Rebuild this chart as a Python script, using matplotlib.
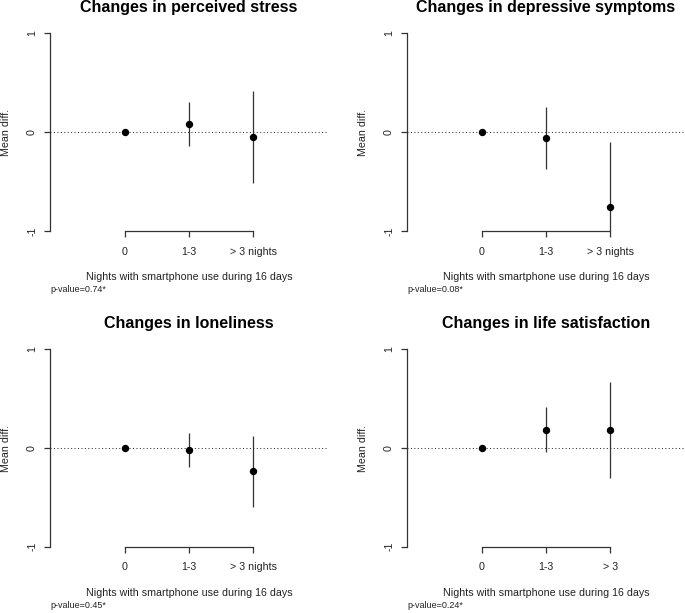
import matplotlib
matplotlib.use("Agg")
import matplotlib.pyplot as plt
import numpy as np

plt.rcParams['font.family'] = ['Liberation Sans', 'DejaVu Sans']

# ---- data ----
titles = ["Changes in perceived stress", "Changes in depressive symptoms",
          "Changes in loneliness", "Changes in life satisfaction"]
categories_a = ["0", "1-3", "> 3 nights"]
categories_b = ["0", "1-3", "> 3"]
stress_mean = [0.0, 0.077, -0.054]
stress_low = [0.0, -0.141, -0.518]
stress_high = [0.0, 0.300, 0.417]
dep_mean = [0.0, -0.064, -0.754]
dep_low = [0.0, -0.377, -1.0]
dep_high = [0.0, 0.250, -0.098]
lone_mean = [0.0, -0.020, -0.237]
lone_low = [0.0, -0.196, -0.600]
lone_high = [0.0, 0.152, 0.125]
life_mean = [0.0, 0.185, 0.185]
life_low = [0.0, -0.044, -0.300]
life_high = [0.0, 0.418, 0.672]
p_values = ["p-value=0.74*", "p-value=0.08*", "p-value=0.45*", "p-value=0.24*"]
y_ticks = [-1, 0, 1]
x_label = "Nights with smartphone use during 16 days"
y_label = "Mean diff."

panels = [
    (titles[0], categories_a, stress_mean, stress_low, stress_high, p_values[0]),
    (titles[1], categories_a, dep_mean, dep_low, dep_high, p_values[1]),
    (titles[2], categories_a, lone_mean, lone_low, lone_high, p_values[2]),
    (titles[3], categories_b, life_mean, life_low, life_high, p_values[3]),
]

W, H = 685, 613
fig = plt.figure(figsize=(W / 100, H / 100), dpi=100)

# axes rectangles in pixels: (left, top(y=1), width, height)
rects = [(50, 33, 278, 198), (407, 33, 278, 198),
         (50, 349.3, 278, 197.4), (407, 349.3, 278, 197.4)]

line_col = '#333333'
for (title, cats, mean, low, high, pv), (l, t, w, h) in zip(panels, rects):
    ax = fig.add_axes([l / W, (H - t - h) / H, w / W, h / H])
    x = np.arange(1, len(cats) + 1)
    ax.set_xlim(-0.16, 4.16)
    ax.set_ylim(-1, 1)
    ax.axhline(0, color=line_col, lw=0.75, linestyle=(0, (1, 2.3)), zorder=1)
    ax.vlines(x, low, high, color=line_col, lw=0.9, zorder=2, clip_on=False)
    ax.plot(x, mean, 'o', color='black', markersize=4.3, zorder=3, clip_on=False)
    for s in ['top', 'right']:
        ax.spines[s].set_visible(False)
    ax.spines['left'].set_color(line_col)
    ax.spines['bottom'].set_color(line_col)
    ax.spines['left'].set_linewidth(0.9)
    ax.spines['bottom'].set_linewidth(0.9)
    ax.spines['bottom'].set_bounds(1, len(cats))
    ax.set_xticks(x)
    ax.set_xticklabels(cats)
    ax.set_yticks(y_ticks)
    ax.set_yticklabels([str(v) for v in y_ticks], rotation=90, va='center')
    ax.tick_params(axis='both', length=4.3, width=0.9, color=line_col,
                   labelsize=7.7, labelcolor='#222222')
    ax.tick_params(axis='x', pad=7.0)
    ax.tick_params(axis='y', pad=5.0)
    ax.patch.set_alpha(0)
    ax.text(0.5, 1 + 25.5 / h, title, transform=ax.transAxes, ha='center',
            va='center', fontsize=11.5, fontweight='bold', color='black')
    ax.text(-44 / w, 0.5, y_label, transform=ax.transAxes, rotation=90,
            ha='center', va='center', fontsize=7.7, color='#222222')
    ax.text(0.5, -46 / h, x_label, transform=ax.transAxes, ha='center',
            va='center', fontsize=7.7, color='#222222')
    ax.text(0.0, -59 / h, pv, transform=ax.transAxes, ha='left',
            va='center', fontsize=6.5, color='#222222')

fig.savefig("out.png", dpi=100, facecolor='white')
